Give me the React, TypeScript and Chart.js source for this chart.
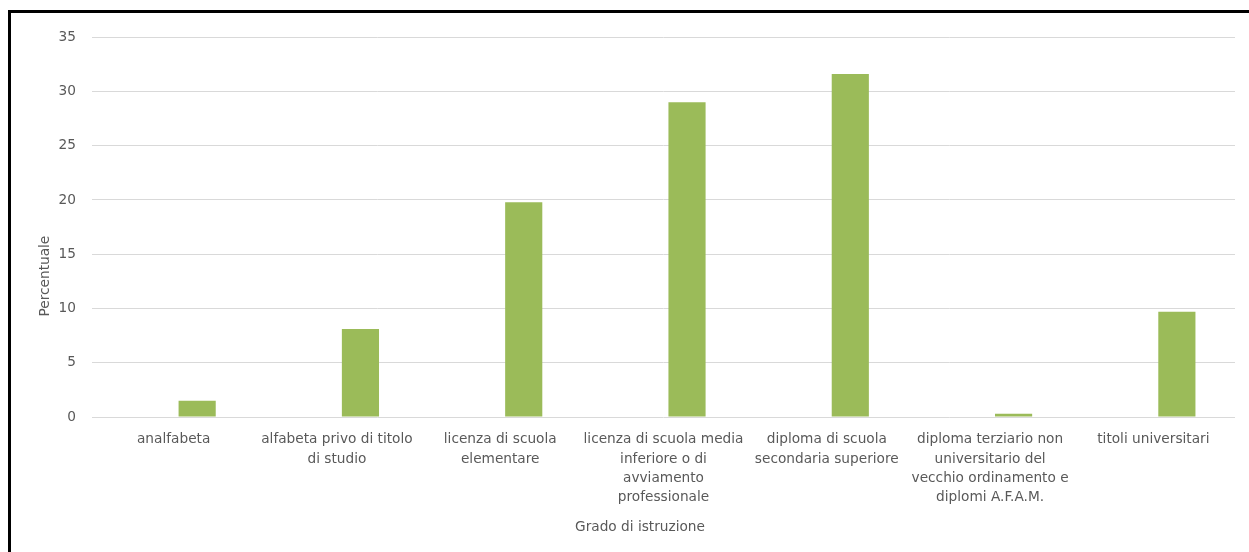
import React, { useEffect, useRef } from "react";
import { Chart, registerables } from "chart.js";

Chart.register(...registerables);

const categories: (string | string[])[] = [
  "analfabeta",
  ["alfabeta privo di titolo", "di studio"],
  ["licenza di scuola", "elementare"],
  ["licenza di scuola media", "inferiore o di", "avviamento", "professionale"],
  ["diploma di scuola", "secondaria superiore"],
  ["diploma terziario non", "universitario del", "vecchio ordinamento e", "diplomi A.F.A.M."],
  "titoli universitari",
];

const percentuale: number[] = [1.5, 8.1, 19.8, 29.0, 31.6, 0.3, 9.7];
const emptySeries: (number | null)[] = [null, null, null, null, null, null, null];

const yTitle = "Percentuale";
const xTitle = "Grado di istruzione";

const FONT = "'DejaVu Sans', Verdana, sans-serif";
const TEXT = "#595959";
const FS = 13.7;

const titlesPlugin = {
  id: "excelTitles",
  afterDraw(chart: any) {
    const { ctx, chartArea } = chart;
    ctx.save();
    ctx.fillStyle = TEXT;
    ctx.font = `${FS}px ${FONT}`;
    ctx.textAlign = "center";
    ctx.textBaseline = "middle";
    // x title
    ctx.fillText(xTitle, (chartArea.left - 47 + chartArea.right) / 2, chartArea.bottom + 110);
    // y title
    ctx.translate(chartArea.left - 47, (chartArea.top + chartArea.bottom + 98) / 2);
    ctx.rotate(-Math.PI / 2);
    ctx.fillText(yTitle, 0, 0);
    ctx.restore();
  },
};

export default function App() {
  const ref = useRef<HTMLCanvasElement | null>(null);

  useEffect(() => {
    if (!ref.current) return;
    const chart = new Chart(ref.current, {
      type: "bar",
      data: {
        labels: categories,
        datasets: [
          {
            label: "",
            data: emptySeries,
            backgroundColor: "rgba(0,0,0,0)",
            categoryPercentage: 0.576,
            barPercentage: 0.79,
          },
          {
            label: yTitle,
            data: percentuale,
            backgroundColor: "#9BBB59",
            categoryPercentage: 0.576,
            barPercentage: 0.79,
          },
        ],
      },
      options: {
        animation: false,
        responsive: true,
        maintainAspectRatio: false,
        layout: { padding: { top: 22, right: 14, left: 0, bottom: 0 } },
        plugins: {
          legend: { display: false },
          tooltip: { enabled: false },
          title: { display: false },
        },
        scales: {
          x: {
            grid: { display: false, drawTicks: false },
            border: { display: false },
            ticks: {
              color: TEXT,
              font: { family: FONT, size: FS, lineHeight: 1.41 },
              padding: 13,
              maxRotation: 0,
              minRotation: 0,
              autoSkip: false,
            },
            afterFit(scale: any) {
              scale.height = 135;
            },
          },
          y: {
            min: 0,
            max: 35,
            grid: { color: "#D9D9D9", lineWidth: 1, drawTicks: false },
            border: { display: false },
            ticks: {
              stepSize: 5,
              color: TEXT,
              font: { family: FONT, size: FS },
              padding: 16,
            },
            afterFit(scale: any) {
              scale.width = 81;
            },
          },
        },
      },
      plugins: [titlesPlugin],
    });
    return () => chart.destroy();
  }, []);

  return (
    <div style={{ position: "fixed", inset: 0, overflow: "hidden", background: "#fff" }}>
      <div
        style={{
          position: "absolute",
          left: 8,
          top: 10,
          width: 1300,
          height: 600,
          border: "3px solid #000",
          background: "#fff",
        }}
      >
        <div style={{ position: "relative", width: 1238, height: 539 }}>
          <canvas ref={ref} />
        </div>
      </div>
    </div>
  );
}
